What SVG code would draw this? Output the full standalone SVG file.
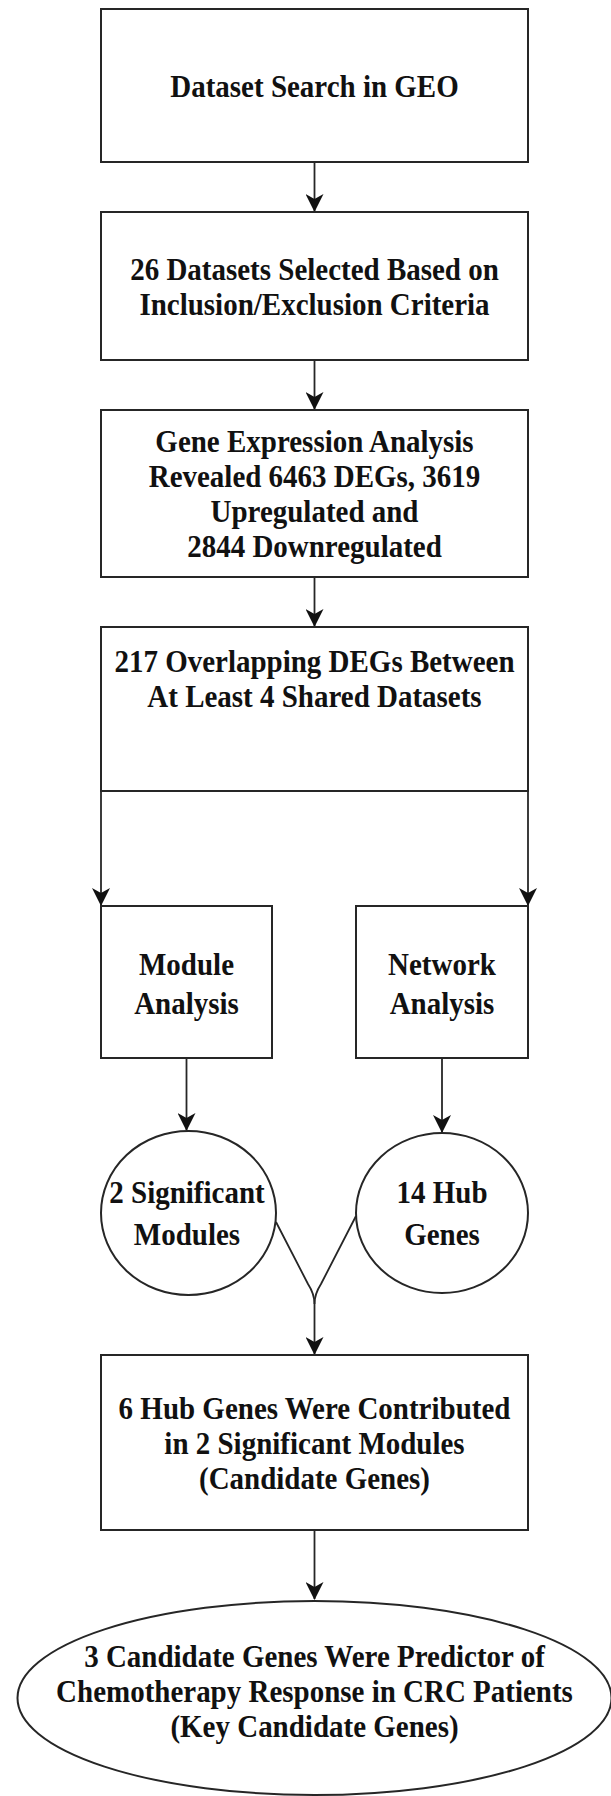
<svg xmlns="http://www.w3.org/2000/svg" width="611" height="1796" viewBox="0 0 611 1796">
<style>
.n{fill:#fff;stroke:#262626;stroke-width:2}
.t{font-family:"Liberation Serif","Times New Roman",serif;font-weight:bold;font-size:29px;fill:#111;text-anchor:middle}
.c{fill:none;stroke:#262626;stroke-width:1.8}
</style>
<defs>
<marker id="ah" markerUnits="userSpaceOnUse" markerWidth="18" markerHeight="18" viewBox="0 0 18 18" refX="17" refY="9" orient="auto">
<path d="M0,0 L18,9 L0,18 L5,9 z" fill="#111"/>
</marker>
</defs>
<rect width="611" height="1796" fill="#fff"/>
<g id="connectors">
<line class="c" x1="314.5" y1="162" x2="314.5" y2="211" marker-end="url(#ah)"/>
<line class="c" x1="314.5" y1="360" x2="314.5" y2="409" marker-end="url(#ah)"/>
<line class="c" x1="314.5" y1="577" x2="314.5" y2="626" marker-end="url(#ah)"/>
<line class="c" x1="101" y1="791" x2="101" y2="905" marker-end="url(#ah)"/>
<line class="c" x1="528" y1="791" x2="528" y2="905" marker-end="url(#ah)"/>
<line class="c" x1="186.5" y1="1058" x2="186.5" y2="1130" marker-end="url(#ah)"/>
<line class="c" x1="442" y1="1058" x2="442" y2="1132" marker-end="url(#ah)"/>
<path class="c" d="M276,1222 L308,1284 Q314.5,1294 314.5,1304"/>
<path class="c" d="M356,1216 L321,1284 Q314.5,1294 314.5,1304"/>
<line class="c" x1="314.5" y1="1304" x2="314.5" y2="1354" marker-end="url(#ah)"/>
<line class="c" x1="314.5" y1="1530" x2="314.5" y2="1599" marker-end="url(#ah)"/>
</g>
<g id="n1">
<rect class="n" x="101" y="9" width="427" height="153"/>
<g transform="translate(314.5,97) scale(1,1.12)"><text class="t" x="0" y="0">Dataset Search in GEO</text></g>
</g>
<g id="n2">
<rect class="n" x="101" y="212" width="427" height="148"/>
<g transform="translate(314.5,280) scale(1,1.12)">
<text class="t" x="0" y="0">26 Datasets Selected Based on</text>
<text class="t" x="0" y="31.3">Inclusion/Exclusion Criteria</text>
</g>
</g>
<g id="n3">
<rect class="n" x="101" y="410" width="427" height="167"/>
<g transform="translate(314.5,452) scale(1,1.12)">
<text class="t" x="0" y="0">Gene Expression Analysis</text>
<text class="t" x="0" y="31.3">Revealed 6463 DEGs, 3619</text>
<text class="t" x="0" y="62.6">Upregulated and</text>
<text class="t" x="0" y="93.9">2844 Downregulated</text>
</g>
</g>
<g id="n4">
<rect class="n" x="101" y="627" width="427" height="164"/>
<g transform="translate(314.5,672) scale(1,1.12)">
<text class="t" x="0" y="0">217 Overlapping DEGs Between</text>
<text class="t" x="0" y="31.3">At Least 4 Shared Datasets</text>
</g>
</g>
<g id="n5">
<rect class="n" x="101" y="906" width="171" height="152"/>
<g transform="translate(186.5,975) scale(1,1.12)">
<text class="t" x="0" y="0">Module</text>
<text class="t" x="0" y="34.8">Analysis</text>
</g>
</g>
<g id="n6">
<rect class="n" x="356" y="906" width="172" height="152"/>
<g transform="translate(442,975) scale(1,1.12)">
<text class="t" x="0" y="0">Network</text>
<text class="t" x="0" y="34.8">Analysis</text>
</g>
</g>
<g id="n7">
<ellipse class="n" cx="188.5" cy="1213" rx="87.5" ry="82"/>
<g transform="translate(187,1203) scale(1,1.12)">
<text class="t" x="0" y="0">2 Significant</text>
<text class="t" x="0" y="37.5">Modules</text>
</g>
</g>
<g id="n8">
<ellipse class="n" cx="442" cy="1213" rx="86" ry="80"/>
<g transform="translate(442,1203) scale(1,1.12)">
<text class="t" x="0" y="0">14 Hub</text>
<text class="t" x="0" y="37.5">Genes</text>
</g>
</g>
<g id="n9">
<rect class="n" x="101" y="1355" width="427" height="175"/>
<g transform="translate(314.5,1419) scale(1,1.12)">
<text class="t" x="0" y="0">6 Hub Genes Were Contributed</text>
<text class="t" x="0" y="31.3">in 2 Significant Modules</text>
<text class="t" x="0" y="62.6">(Candidate Genes)</text>
</g>
</g>
<g id="n10">
<ellipse class="n" cx="314.5" cy="1698" rx="297" ry="97"/>
<g transform="translate(314.5,1667) scale(1,1.12)">
<text class="t" x="0" y="0">3 Candidate Genes Were Predictor of</text>
<text class="t" x="0" y="31.3">Chemotherapy Response in CRC Patients</text>
<text class="t" x="0" y="62.6">(Key Candidate Genes)</text>
</g>
</g>
</svg>
